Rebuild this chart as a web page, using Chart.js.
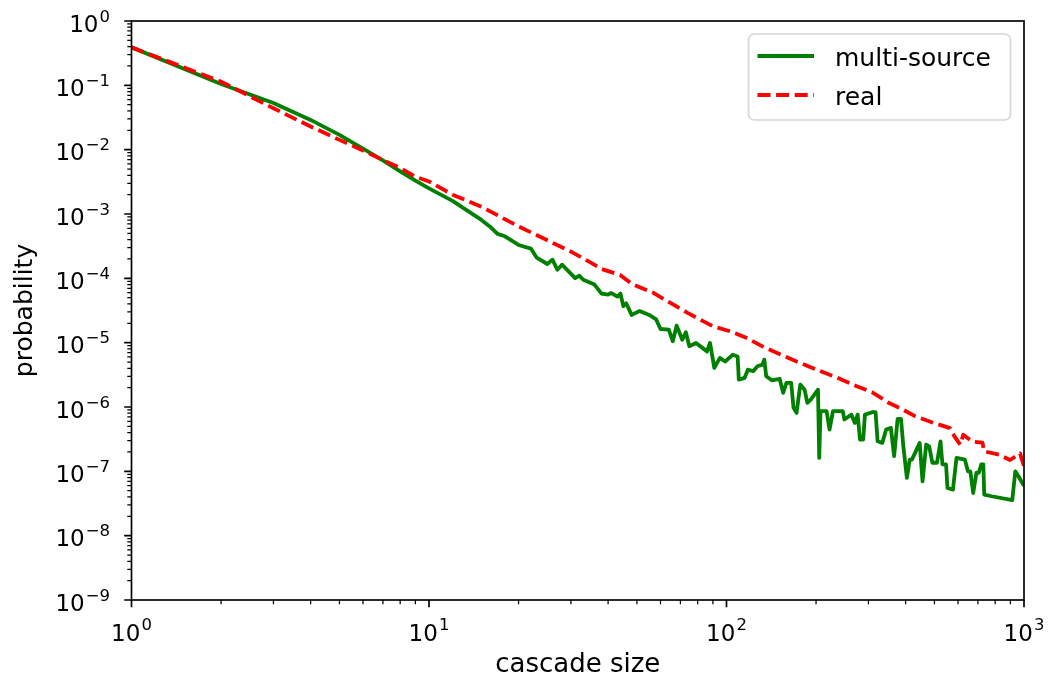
<!DOCTYPE html>
<html>
<head>
<meta charset="utf-8">
<script src="https://cdn.jsdelivr.net/npm/chart.js@4.4.1/dist/chart.umd.min.js"></script>
<style>
  html, body { margin: 0; padding: 0; background: #fff; }
  #wrap { width: 1050px; height: 685px; }
</style>
</head>
<body>
<div id="wrap"><canvas id="chart" width="1050" height="685"></canvas></div>
<script>
// ── Values (cascade size vs probability, log-log) ──
const multiX = [1, 2, 3, 4, 5, 6, 7, 8, 9, 10, 12, 15, 16, 17, 18, 20, 22, 23, 25, 26,
  27, 28, 31, 32, 33, 36, 38, 40, 41, 43, 44, 45, 46, 48, 51, 55, 58, 60, 64, 66,
  68, 71, 73, 75, 79, 83, 86, 88, 91, 95, 99, 105, 109, 110, 115, 118, 123, 127, 132, 134,
  136, 142, 151, 155, 159, 165, 168, 172, 177, 183, 187, 192, 203, 205, 207, 217, 222, 228, 246, 249,
  263, 270, 276, 281, 288, 292, 309, 317, 322, 334, 344, 357, 366, 376, 386, 393, 404, 413, 420, 446,
  456, 469, 480, 492, 510, 524, 532, 547, 553, 577, 593, 633, 648, 660, 675, 692, 705, 718, 730, 735,
  778, 913, 935, 958, 995, 1000];
const multiY = [0.39, 0.105, 0.053, 0.029, 0.017, 0.0104, 0.0068, 0.0046, 0.0033, 0.0025,
  1.6e-3, 8.1e-4, 6.4e-4, 4.9e-4, 4.5e-4, 3.3e-4, 2.9e-4, 2.1e-4, 1.67e-4, 1.95e-4,
  1.36e-4, 1.63e-4, 1.01e-4, 1.1e-4, 9.5e-5, 8.0e-5, 5.8e-5, 5.6e-5, 5.9e-5, 5.2e-5,
  5.8e-5, 3.7e-5, 4.1e-5, 2.7e-5, 3.1e-5, 2.7e-5, 2.3e-5, 1.63e-5, 1.59e-5, 1.05e-5,
  1.84e-5, 1.11e-5, 1.45e-5, 8.8e-6, 9.9e-6, 8.3e-6, 7.3e-6, 9.9e-6, 4.05e-6, 5.8e-6,
  5.1e-6, 6.5e-6, 6.1e-6, 2.66e-6, 2.83e-6, 3.8e-6, 3.6e-6, 4.3e-6, 4.55e-6, 5.45e-6,
  3.0e-6, 2.6e-6, 2.73e-6, 1.66e-6, 2.37e-6, 2.37e-6, 9.7e-7, 8.1e-7, 2.23e-6, 1.86e-6,
  1.16e-6, 1.3e-6, 1.86e-6, 1.62e-7, 8.6e-7, 8.6e-7, 4.46e-7, 8.6e-7, 8.6e-7, 6.4e-7,
  7.6e-7, 5.66e-7, 7.6e-7, 3.12e-7, 3.12e-7, 7.6e-7, 8.3e-7, 8.3e-7, 2.93e-7, 2.77e-7,
  4.46e-7, 4.73e-7, 1.72e-7, 6.53e-7, 6.53e-7, 2.45e-7, 7.9e-8, 1.52e-7, 1.52e-7, 2.77e-7,
  7.0e-8, 2.61e-7, 2.45e-7, 1.36e-7, 1.36e-7, 2.93e-7, 1.28e-7, 1.28e-7, 5.5e-8, 5.2e-8,
  1.62e-7, 1.52e-7, 1.0e-7, 1.0e-7, 4.6e-8, 9.5e-8, 9.5e-8, 1.28e-7, 1.28e-7, 4.36e-8,
  4.1e-8, 3.56e-8, 1.0e-7, 8.4e-8, 6.2e-8, 6.0e-8];

const realX = [1, 2, 3, 4, 5, 6, 7, 8, 9, 10, 12, 15, 20, 25, 30, 35, 38, 44, 48, 57,
  65, 74, 90, 103, 117, 133, 148, 172, 201, 238, 274, 308, 326, 352, 389, 430, 495, 564, 573, 610,
  625, 670, 725, 735, 830, 897, 970, 1000];
const realY = [0.39, 0.114, 0.044, 0.0229, 0.0142, 0.0097, 0.0069, 0.0052, 0.0038, 0.0032,
  2.0e-3, 1.3e-3, 6.4e-4, 3.9e-4, 2.6e-4, 1.75e-4, 1.4e-4, 1.12e-4, 8.2e-5, 5.9e-5,
  4.1e-5, 2.9e-5, 1.8e-5, 1.5e-5, 1.18e-5, 8.6e-6, 6.9e-6, 5.1e-6, 3.8e-6, 2.8e-6,
  2.1e-6, 1.7e-6, 1.45e-6, 1.15e-6, 9.3e-7, 7.2e-7, 5.7e-7, 4.7e-7, 4.0e-7, 2.6e-7,
  3.7e-7, 2.9e-7, 2.8e-7, 2.05e-7, 1.8e-7, 1.5e-7, 1.9e-7, 1.2e-7];

const xTickExps = [0, 1, 2, 3];
const yTickExps = [-9, -8, -7, -6, -5, -4, -3, -2, -1, 0];
const seriesLabels = ['multi-source', 'real'];

const FONT = "'DejaVu Sans', sans-serif";
const TICK_PX = 23, SUP_PX = 16.5;

function toPoints(xs, ys) { return xs.map((x, i) => ({ x, y: ys[i] })); }

// "10" + raised exponent, like matplotlib's mathtext tick labels
function drawPow(ctx, exp, x, baseY, raise, align) {
  const base = '10';
  const sup = exp < 0 ? '\u2212' + (-exp) : String(exp);
  ctx.font = `${TICK_PX}px ${FONT}`;
  const wb = ctx.measureText(base).width + 1;
  ctx.font = `${SUP_PX}px ${FONT}`;
  const ws = ctx.measureText(sup).width;
  const left = align === 'right' ? x - wb - ws : x - (wb + ws) / 2;
  ctx.textAlign = 'left';
  ctx.textBaseline = 'alphabetic';
  ctx.font = `${TICK_PX}px ${FONT}`;
  ctx.fillText(base, left, baseY);
  ctx.font = `${SUP_PX}px ${FONT}`;
  ctx.fillText(sup, left + wb, baseY - raise);
}

// ── Frame, outward log ticks, tick labels, legend ──
const axesDecor = {
  id: 'axesDecor',
  afterDatasetsDraw(chart) {
    const { ctx, chartArea: a, scales: { x, y } } = chart;
    ctx.save();
    ctx.strokeStyle = '#000';
    ctx.fillStyle = '#000';

    // minor ticks
    ctx.lineWidth = 1.25;
    ctx.beginPath();
    xTickExps.slice(0, -1).forEach(e => {
      for (let k = 2; k <= 9; k++) {
        const px = x.getPixelForValue(k * Math.pow(10, e));
        ctx.moveTo(px, a.bottom); ctx.lineTo(px, a.bottom + 4.2);
      }
    });
    yTickExps.slice(0, -1).forEach(e => {
      for (let k = 2; k <= 9; k++) {
        const py = y.getPixelForValue(k * Math.pow(10, e));
        ctx.moveTo(a.left, py); ctx.lineTo(a.left - 4.2, py);
      }
    });
    ctx.stroke();

    // major ticks + labels
    ctx.lineWidth = 1.67;
    ctx.beginPath();
    xTickExps.forEach(e => {
      const px = x.getPixelForValue(Math.pow(10, e));
      ctx.moveTo(px, a.bottom); ctx.lineTo(px, a.bottom + 7.3);
    });
    yTickExps.forEach(e => {
      const py = y.getPixelForValue(Math.pow(10, e));
      ctx.moveTo(a.left, py); ctx.lineTo(a.left - 7.3, py);
    });
    ctx.stroke();
    xTickExps.forEach(e => drawPow(ctx, e, x.getPixelForValue(Math.pow(10, e)), a.bottom + 41, 11, 'center'));
    yTickExps.forEach(e => drawPow(ctx, e, 110, y.getPixelForValue(Math.pow(10, e)) + 10.5, 10, 'right'));

    // frame
    ctx.lineWidth = 1.67;
    ctx.strokeRect(a.left, a.top, a.right - a.left, a.bottom - a.top);

    // legend box
    const lx = 748.5, ly = 34, lw = 262, lh = 86;
    ctx.beginPath();
    ctx.roundRect(lx, ly, lw, lh, 6);
    ctx.fillStyle = 'rgba(255,255,255,0.8)';
    ctx.fill();
    ctx.strokeStyle = 'rgba(204,204,204,0.8)';
    ctx.lineWidth = 1.67;
    ctx.stroke();

    const rows = [56, 95];
    chart.data.datasets.forEach((ds, i) => {
      ctx.beginPath();
      ctx.strokeStyle = ds.borderColor;
      ctx.lineWidth = ds.borderWidth;
      ctx.setLineDash(ds.borderDash || []);
      ctx.lineCap = 'butt';
      ctx.moveTo(757.5, rows[i]);
      ctx.lineTo(814, rows[i]);
      ctx.stroke();
      ctx.setLineDash([]);
      ctx.fillStyle = '#000';
      ctx.font = `25px ${FONT}`;
      ctx.textAlign = 'left';
      ctx.textBaseline = 'alphabetic';
      ctx.fillText(ds.label, 835, rows[i] + 9.5);
    });
    ctx.restore();
  }
};

new Chart(document.getElementById('chart'), {
  type: 'line',
  data: {
    datasets: [
      {
        label: seriesLabels[0],
        data: toPoints(multiX, multiY),
        borderColor: '#008000',
        borderWidth: 3.8,
        borderJoinStyle: 'round',
        pointRadius: 0,
        tension: 0,
        fill: false,
        order: 1,
      },
      {
        label: seriesLabels[1],
        data: toPoints(realX, realY),
        borderColor: '#ff0000',
        borderWidth: 3.8,
        borderDash: [13, 5.6],
        borderCapStyle: 'butt',
        borderJoinStyle: 'round',
        pointRadius: 0,
        tension: 0,
        fill: false,
        order: 0,
      },
    ],
  },
  options: {
    responsive: false,
    devicePixelRatio: 1,
    animation: false,
    layout: { padding: { top: 21, right: 26, left: 0, bottom: 0 } },
    plugins: { legend: { display: false }, tooltip: { enabled: false } },
    scales: {
      x: {
        type: 'logarithmic',
        min: 1,
        max: 1000,
        grid: { display: false },
        border: { display: false },
        ticks: { display: false },
        title: {
          display: true,
          text: 'cascade size',
          color: '#000',
          font: { family: FONT, size: 26 },
          padding: { top: 0, bottom: 4 },
        },
        afterFit: s => { s.height = 85; },
      },
      y: {
        type: 'logarithmic',
        min: 1e-9,
        max: 1,
        grid: { display: false },
        border: { display: false },
        ticks: { display: false },
        title: {
          display: true,
          text: 'probability',
          color: '#000',
          font: { family: FONT, size: 25 },
          padding: { top: 10, bottom: 0 },
        },
        afterFit: s => { s.width = 131.5; },
      },
    },
  },
  plugins: [axesDecor],
});
</script>
</body>
</html>
